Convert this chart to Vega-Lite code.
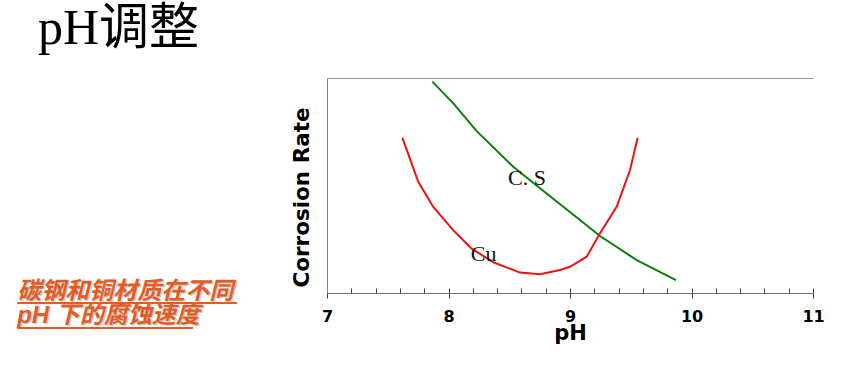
{
  "$schema": "https://vega.github.io/schema/vega-lite/v6.json",
  "width": 486,
  "height": 215,
  "autosize": {"type": "none"},
  "padding": {"left": 327, "top": 78, "right": 55, "bottom": 77},
  "background": "white",
  "config": {"view": {"stroke": null}},
  "title": {
    "text": "pH调整",
    "anchor": "start",
    "frame": "group",
    "dx": -289,
    "dy": 16,
    "font": "Liberation Serif, Noto Sans CJK SC",
    "fontSize": 50,
    "fontWeight": "normal",
    "color": "#000000",
    "baseline": "alphabetic",
    "offset": 0
  },
  "datasets": {
    "curves": [
      {"metal": "C.S", "ph": 7.867, "rate": 98.3},
      {"metal": "C.S", "ph": 8.04, "rate": 88.2},
      {"metal": "C.S", "ph": 8.232, "rate": 75.3},
      {"metal": "C.S", "ph": 8.533, "rate": 58.7},
      {"metal": "C.S", "ph": 8.753, "rate": 48.7},
      {"metal": "C.S", "ph": 8.945, "rate": 40.1},
      {"metal": "C.S", "ph": 9.247, "rate": 26.5},
      {"metal": "C.S", "ph": 9.549, "rate": 15.3},
      {"metal": "C.S", "ph": 9.872, "rate": 6.0},
      {"metal": "Cu", "ph": 7.62, "rate": 72.3},
      {"metal": "Cu", "ph": 7.751, "rate": 51.7},
      {"metal": "Cu", "ph": 7.875, "rate": 40.0},
      {"metal": "Cu", "ph": 8.04, "rate": 29.1},
      {"metal": "Cu", "ph": 8.191, "rate": 20.6},
      {"metal": "Cu", "ph": 8.369, "rate": 14.3},
      {"metal": "Cu", "ph": 8.588, "rate": 9.5},
      {"metal": "Cu", "ph": 8.753, "rate": 8.7},
      {"metal": "Cu", "ph": 8.918, "rate": 10.7},
      {"metal": "Cu", "ph": 9.0, "rate": 12.2},
      {"metal": "Cu", "ph": 9.137, "rate": 16.9},
      {"metal": "Cu", "ph": 9.247, "rate": 27.8},
      {"metal": "Cu", "ph": 9.384, "rate": 40.1},
      {"metal": "Cu", "ph": 9.494, "rate": 57.2},
      {"metal": "Cu", "ph": 9.557, "rate": 72.2}
    ],
    "labels": [
      {"ph": 8.49, "rate": 50.3, "label": "C. S"},
      {"ph": 8.183, "rate": 14.7, "label": "Cu"}
    ],
    "caption": [
      {"ph": 4.45, "rate": -2.79, "text": "碳钢和铜材质在不同"},
      {"ph": 4.45, "rate": -13.95, "text": "pH 下的腐蚀速度"}
    ],
    "underline": [
      {"ph": 4.45, "ph_end": 6.259, "rate": -4.65},
      {"ph": 4.45, "ph_end": 5.897, "rate": -16.28}
    ]
  },
  "layer": [
    {
      "data": {"name": "curves"},
      "mark": {"type": "line", "strokeWidth": 2, "interpolate": "linear"},
      "encoding": {
        "x": {
          "field": "ph", "type": "quantitative",
          "scale": {"domain": [7, 11], "nice": false, "zero": false},
          "axis": {
            "orient": "bottom", "values": [7, 8, 9, 10, 11], "format": "d",
            "domain": true, "domainColor": "#707070", "domainWidth": 1,
            "ticks": true, "tickSize": 5, "tickColor": "#404040", "tickWidth": 1,
            "labelFont": "DejaVu Sans", "labelFontWeight": "bold", "labelFontSize": 16,
            "labelColor": "#000000", "labelPadding": 10, "labelFlush": false,
            "grid": false,
            "title": "pH", "titleFont": "DejaVu Sans", "titleFontWeight": "bold",
            "titleFontSize": 21, "titleColor": "#000000", "titleY": 46,
            "titleBaseline": "alphabetic", "titleAnchor": "middle"
          }
        },
        "y": {
          "field": "rate", "type": "quantitative",
          "scale": {"domain": [0, 100], "nice": false, "zero": false},
          "axis": {
            "orient": "left", "domain": true, "domainColor": "#808080",
            "ticks": false, "labels": false, "grid": false,
            "title": "Corrosion Rate", "titleFont": "DejaVu Sans", "titleFontWeight": "bold",
            "titleFontSize": 21.5, "titleColor": "#000000", "titleAngle": 270,
            "titleX": -19, "titleY": 119, "titleBaseline": "alphabetic", "titleAlign": "center"
          }
        },
        "color": {
          "field": "metal", "type": "nominal",
          "scale": {"domain": ["C.S", "Cu"], "range": ["#0c7d0c", "#ee1111"]},
          "legend": null
        }
      }
    },
    {
      "data": {"name": "labels"},
      "mark": {"type": "text", "align": "left", "baseline": "alphabetic", "font": "Liberation Serif", "fontSize": 22, "color": "#111111"},
      "encoding": {
        "x": {
          "field": "ph", "type": "quantitative",
          "scale": {"domain": [7, 11], "nice": false, "zero": false},
          "axis": {
            "orient": "bottom", "offset": -5,
            "values": [7, 7.2, 7.4, 7.6, 7.8, 8, 8.2, 8.4, 8.6, 8.8, 9, 9.2, 9.4, 9.6, 9.8, 10, 10.2, 10.4, 10.6, 10.8, 11],
            "domain": false, "ticks": true, "tickSize": 5, "tickColor": "#404040", "tickWidth": 1,
            "labels": false, "grid": false, "title": null
          }
        },
        "y": {
          "field": "rate", "type": "quantitative",
          "scale": {"domain": [0, 100], "nice": false, "zero": false},
          "axis": {
            "orient": "left", "domain": true, "domainColor": "#808080",
            "ticks": false, "labels": false, "grid": false,
            "title": "Corrosion Rate", "titleFont": "DejaVu Sans", "titleFontWeight": "bold",
            "titleFontSize": 21.5, "titleColor": "#000000", "titleAngle": 270,
            "titleX": -19, "titleY": 119, "titleBaseline": "alphabetic", "titleAlign": "center"
          }
        },
        "text": {"field": "label"}
      }
    },
    {
      "data": {"name": "caption"},
      "mark": {"type": "text", "align": "left", "baseline": "alphabetic", "font": "Liberation Sans, Noto Sans CJK SC", "fontSize": 24, "fontWeight": "bold", "fontStyle": "italic", "color": "#cccccc", "dx": 1.5, "dy": 1.5},
      "encoding": {
        "x": {"field": "ph", "type": "quantitative", "scale": {"domain": [7, 11], "nice": false, "zero": false}, "axis": null},
        "y": {
          "field": "rate", "type": "quantitative",
          "scale": {"domain": [0, 100], "nice": false, "zero": false},
          "axis": {
            "orient": "left", "domain": true, "domainColor": "#808080",
            "ticks": false, "labels": false, "grid": false,
            "title": "Corrosion Rate", "titleFont": "DejaVu Sans", "titleFontWeight": "bold",
            "titleFontSize": 21.5, "titleColor": "#000000", "titleAngle": 270,
            "titleX": -19, "titleY": 119, "titleBaseline": "alphabetic", "titleAlign": "center"
          }
        },
        "text": {"field": "text"}
      }
    },
    {
      "data": {"name": "caption"},
      "mark": {"type": "text", "align": "left", "baseline": "alphabetic", "font": "Liberation Sans, Noto Sans CJK SC", "fontSize": 24, "fontWeight": "bold", "fontStyle": "italic", "color": "#e25c24"},
      "encoding": {
        "x": {
          "field": "ph", "type": "quantitative",
          "scale": {"domain": [7, 11], "nice": false, "zero": false},
          "axis": {"orient": "top", "domain": true, "domainColor": "#999999", "ticks": false, "labels": false, "grid": false, "title": null}
        },
        "y": {
          "field": "rate", "type": "quantitative",
          "scale": {"domain": [0, 100], "nice": false, "zero": false},
          "axis": {
            "orient": "left", "domain": true, "domainColor": "#808080",
            "ticks": false, "labels": false, "grid": false,
            "title": "Corrosion Rate", "titleFont": "DejaVu Sans", "titleFontWeight": "bold",
            "titleFontSize": 21.5, "titleColor": "#000000", "titleAngle": 270,
            "titleX": -19, "titleY": 119, "titleBaseline": "alphabetic", "titleAlign": "center"
          }
        },
        "text": {"field": "text"}
      }
    },
    {
      "data": {"name": "underline"},
      "mark": {"type": "rule", "color": "#e25c24", "strokeWidth": 2},
      "encoding": {
        "x": {"field": "ph", "type": "quantitative", "scale": {"domain": [7, 11], "nice": false, "zero": false}, "axis": null},
        "x2": {"field": "ph_end"},
        "y": {
          "field": "rate", "type": "quantitative",
          "scale": {"domain": [0, 100], "nice": false, "zero": false},
          "axis": {
            "orient": "left", "domain": true, "domainColor": "#808080",
            "ticks": false, "labels": false, "grid": false,
            "title": "Corrosion Rate", "titleFont": "DejaVu Sans", "titleFontWeight": "bold",
            "titleFontSize": 21.5, "titleColor": "#000000", "titleAngle": 270,
            "titleX": -19, "titleY": 119, "titleBaseline": "alphabetic", "titleAlign": "center"
          }
        }
      }
    }
  ],
  "resolve": {"axis": {"x": "independent"}}
}
